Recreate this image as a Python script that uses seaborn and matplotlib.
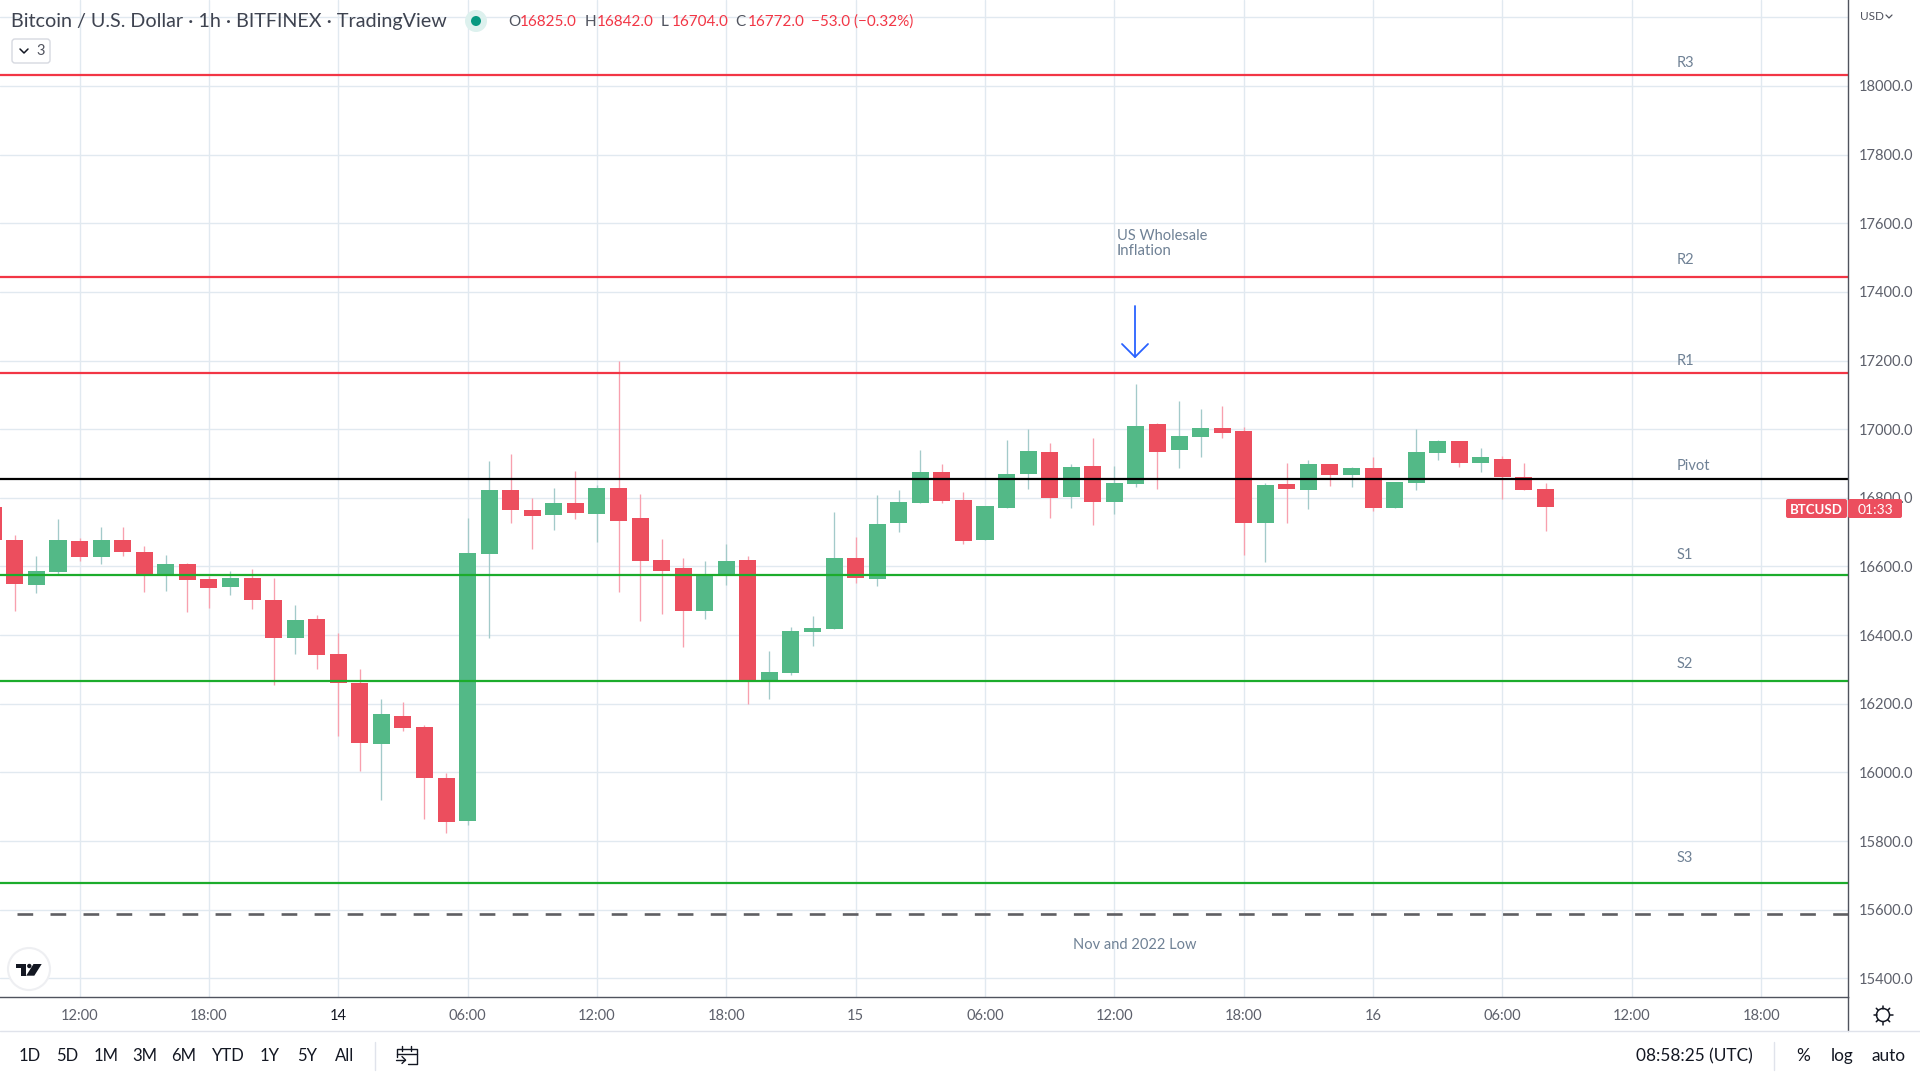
import matplotlib
matplotlib.use("Agg")
import matplotlib.pyplot as plt
from matplotlib.patches import Circle, FancyBboxPatch, Polygon
import numpy as np
import pandas as pd
import seaborn as sns

# ─────────────────────────────────────────
# Data
# hours are counted from 13 Nov 12:00
# ─────────────────────────────────────────
hours = list(range(-4, 69))
opens = [16774, 16678, 16547, 16584, 16675, 16628, 16678, 16643, 16579, 16608,
         16564, 16541, 16567, 16503, 16392, 16447, 16346, 16261, 16083, 16165,
         16133, 15984, 15859, 16637, 16823, 16765, 16750, 16785, 16753, 16829,
         16742, 16619, 16596, 16471, 16573, 16619, 16267, 16290, 16410, 16418,
         16625, 16564, 16727, 16785, 16876, 16794, 16678, 16771, 16870, 16934,
         16803, 16893, 16788, 16841, 17016, 16940, 16978, 17004, 16995, 16727,
         16841, 16823, 16899, 16867, 16887, 16771, 16844, 16931, 16966, 16902,
         16914, 16861, 16825]
closes = [16678, 16549, 16587, 16678, 16628, 16678, 16643, 16579, 16608, 16561,
          16538, 16567, 16503, 16392, 16445, 16343, 16261, 16086, 16171, 16130,
          15984, 15856, 16640, 16823, 16765, 16748, 16785, 16756, 16829, 16733,
          16616, 16587, 16471, 16579, 16616, 16270, 16293, 16413, 16421, 16625,
          16567, 16724, 16788, 16876, 16791, 16675, 16777, 16870, 16937, 16800,
          16890, 16788, 16844, 17010, 16934, 16981, 17004, 16989, 16727, 16838,
          16826, 16899, 16867, 16887, 16771, 16847, 16934, 16966, 16902, 16919,
          16861, 16823, 16772]
highs = [16780, 16692, 16631, 16739, 16683, 16715, 16715, 16660, 16634, 16611,
         16573, 16587, 16593, 16567, 16488, 16459, 16407, 16302, 16214, 16206,
         16139, 15999, 16742, 16908, 16928, 16800, 16829, 16879, 16838, 17199,
         16812, 16681, 16625, 16616, 16666, 16631, 16354, 16424, 16456, 16759,
         16686, 16809, 16823, 16940, 16899, 16817, 16777, 16969, 17001, 16960,
         16899, 16975, 16893, 17132, 17018, 17083, 17059, 17068, 17007, 16844,
         16902, 16911, 16899, 16890, 16919, 16847, 17001, 16969, 16966, 16946,
         16922, 16902, 16842]
lows = [16650, 16471, 16523, 16579, 16616, 16608, 16631, 16526, 16529, 16468,
        16480, 16517, 16477, 16255, 16346, 16302, 16107, 16005, 15920, 16121,
        15865, 15824, 15847, 16392, 16727, 16651, 16707, 16739, 16672, 16526,
        16442, 16462, 16366, 16447, 16547, 16200, 16214, 16284, 16369, 16418,
        16552, 16544, 16701, 16785, 16785, 16666, 16678, 16771, 16826, 16742,
        16771, 16721, 16753, 16832, 16826, 16887, 16919, 16975, 16634, 16614,
        16727, 16768, 16835, 16832, 16762, 16771, 16823, 16911, 16890, 16876,
        16797, 16823, 16704]

resistance_levels = [18031, 17443, 17164]
pivot_level = 16855
support_levels = [16576, 16267, 15679]
low_level = 15588

price_ticks = [15400, 15600, 15800, 16000, 16200, 16400, 16600, 16800,
               17000, 17200, 17400, 17600, 17800, 18000]
time_ticks = [0, 6, 12, 18, 24, 30, 36, 42, 48, 54, 60, 66, 72, 78]
time_labels = ["12:00", "18:00", "14", "06:00", "12:00", "18:00", "15",
               "06:00", "12:00", "18:00", "16", "06:00", "12:00", "18:00"]

UP, DOWN = "#53B987", "#EC4E5E"
UP_WICK, DOWN_WICK = "#A3CACA", "#F8A0AE"
RED, GREEN = "#F23645", "#1CAC2C"
GRID = "#E1E9F0"
AXIS = "#50535E"
NOTE = "#6F8195"
INK = "#131722"

sns.set_theme(style="whitegrid", rc={"grid.color": GRID, "grid.linewidth": 1.0,
                                     "axes.edgecolor": AXIS})
plt.rcParams["font.family"] = ["Lato", "DejaVu Sans"]

# ─────────────────────────────────────────
# Candles
# ─────────────────────────────────────────
df = pd.DataFrame({"hour": hours, "open": opens, "close": closes, "high": highs, "low": lows})
df["base"] = df[["open", "close"]].min(axis=1)
df["body"] = (df["close"] - df["open"]).abs()

fig = plt.figure(figsize=(19.2, 10.8), dpi=100, facecolor="white")
ax = fig.add_axes([0, 1 - 997 / 1080, 1848 / 1920, 997 / 1080])
ax.set_axisbelow(True)

for is_up, body_col, wick_col in [(True, UP, UP_WICK), (False, DOWN, DOWN_WICK)]:
    part = df[(df["close"] > df["open"]) == is_up]
    ax.vlines(part["hour"], part["low"], part["high"], color=wick_col, lw=0.95, zorder=0.9)
    sns.barplot(data=part, x="hour", y="body", bottom=part["base"].values, native_scale=True,
                orient="x", color=body_col, saturation=1, width=0.79, errorbar=None,
                linewidth=0, ax=ax, zorder=1)

for lvl in resistance_levels:
    ax.axhline(lvl, color=RED, lw=1.6, zorder=2)
for lvl in support_levels:
    ax.axhline(lvl, color=GREEN, lw=1.6, zorder=2)
ax.axhline(pivot_level, color="black", lw=1.6, zorder=2)
ax.axhline(low_level, color="#5F5F63", lw=1.9, ls=(6.07, (5.95, 6.56)), zorder=2)

ax.set_xlim(-3.69, 82.03)
ax.set_ylim(15345.5, 18250.5)
ax.set_yticks(price_ticks + [18200])
ax.set_yticklabels([f"{p:.1f}" for p in price_ticks] + [""])
ax.yaxis.tick_right()
ax.set_xticks(time_ticks)
ax.set_xticklabels(time_labels)
ax.tick_params(axis="both", length=0, labelsize=10.5, labelcolor="#5D606B")
ax.tick_params(axis="x", pad=9)
ax.tick_params(axis="y", pad=8)
for lab in ax.get_xticklabels():
    if lab.get_text() == "14":
        lab.set_color(INK)
ax.set_xlabel("")
ax.set_ylabel("")
ax.grid(True, color=GRID, lw=1.0)
ax.spines[["top", "left"]].set_visible(False)
ax.spines[["right", "bottom"]].set_color(AXIS)
ax.spines[["right", "bottom"]].set_linewidth(1.0)

# ─────────────────────────────────────────
# Screen furniture, in pixel coordinates
# ─────────────────────────────────────────
ov = fig.add_axes([0, 0, 1, 1], facecolor="none")
ov.set_xlim(0, 1920)
ov.set_ylim(1080, 0)
ov.axis("off")


def put(x, y, s, size=10.5, color=INK, ha="left", **kw):
    ov.text(x, y, s, fontsize=size, color=color, ha=ha, va="center", **kw)


# header
put(11, 22, "Bitcoin / U.S. Dollar · 1h · BITFINEX · TradingView", size=14.2, color="#3E4350")
ov.add_patch(Circle((476, 21), 11, fc="#DDF1EE", ec="none"))
ov.add_patch(Circle((476, 21), 5, fc="#089981", ec="none"))
for x, s in [(508, "O"), (585, "H"), (661, "L"), (735, "C")]:
    put(x, 22, s, size=11, color="#50535E")
for x, s in [(520, "16825.0"), (597, "16842.0"), (672, "16704.0"), (748, "16772.0"),
             (811, "−53.0 (−0.32%)")]:
    put(x, 22, s, size=11, color=RED)
ov.add_patch(FancyBboxPatch((12, 39), 38, 24, boxstyle="round,pad=0,rounding_size=3",
                            fc="white", ec="#D6D9E0", lw=1))
ov.plot([20, 24, 28], [49, 53, 49], color=INK, lw=1.1)
put(36, 51, "3", size=10.5, color="#50535E")
put(1860, 16, "USD", size=8.5, color="#50535E")
ov.plot([1886, 1889, 1892], [15, 18, 15], color="#50535E", lw=0.9)

# level labels
for y, s in [(63, "R3"), (260, "R2"), (361, "R1"), (466, "Pivot"), (555, "S1"), (664, "S2"), (858, "S3")]:
    put(1677, y, s, size=10.5, color=NOTE)
put(1117, 236, "US Wholesale", size=10.5, color=NOTE)
put(1117, 251, "Inflation", size=10.8, color=NOTE)
put(1135, 945, "Nov and 2022 Low", size=10.5, color=NOTE, ha="center")

# arrow
ov.plot([1135, 1135], [306, 357], color="#2962FF", lw=1.3)
ov.plot([1122, 1135, 1148], [344, 357, 344], color="#2962FF", lw=1.3)

# last price tag
ov.add_patch(FancyBboxPatch((1786, 499), 61, 19, boxstyle="round,pad=0,rounding_size=2", fc=DOWN, ec="none"))
ov.add_patch(FancyBboxPatch((1848, 499), 54, 19, boxstyle="round,pad=0,rounding_size=2", fc=DOWN, ec="none"))
put(1816, 510, "BTCUSD", size=9.5, color="white", ha="center", fontweight="bold")
put(1875, 510, "01:33", size=10, color="white", ha="center")

# logo
ov.add_patch(Circle((29, 969), 21, fc="white", ec="#EEEFF2", lw=1.5))
ov.add_patch(Polygon([(16, 964), (25.7, 964), (25.7, 975.7), (20.7, 975.7), (20.7, 968.3), (16, 968.3)],
                     fc=INK, ec="none"))
ov.add_patch(Circle((29.3, 966), 2.2, fc=INK, ec="none"))
ov.add_patch(Polygon([(33.5, 964), (41.7, 964), (34.3, 975.7), (26.2, 975.7)], fc=INK, ec="none"))

# separators
ov.plot([1848, 1848], [997, 1031], color=AXIS, lw=1)
ov.plot([0, 1920], [1031, 1031], color="#E0E3EB", lw=1)
ov.plot([375, 375], [1042, 1070], color="#E0E3EB", lw=1)
ov.plot([1774, 1774], [1042, 1070], color="#E0E3EB", lw=1)

# gear icon
ov.add_patch(Circle((1883, 1015), 6.5, fc="none", ec=INK, lw=1.1))
for a in np.arange(0, 360, 45):
    c, s = np.cos(np.radians(a)), np.sin(np.radians(a))
    ov.plot([1883 + 6.5 * c, 1883 + 9.5 * c], [1015 + 6.5 * s, 1015 + 9.5 * s], color=INK, lw=1.1)

# bottom toolbar
for x, s in [(30, "1D"), (67, "5D"), (106, "1M"), (145, "3M"), (184, "6M"),
             (228, "YTD"), (270, "1Y"), (307, "5Y"), (345, "All")]:
    put(x, 1056, s, size=12, ha="center")
# calendar icon
ov.plot([397, 397, 417, 417, 408], [1057, 1049, 1049, 1064, 1064], color=INK, lw=1)
ov.plot([397, 417], [1054, 1054], color=INK, lw=1)
ov.plot([402, 402], [1046, 1051], color=INK, lw=1)
ov.plot([411, 411], [1046, 1051], color=INK, lw=1)
ov.plot([396, 405], [1060, 1060], color=INK, lw=1)
ov.plot([402, 405.5, 402], [1056.5, 1060, 1063.5], color=INK, lw=1)

put(1694, 1056, "08:58:25 (UTC)", size=12.4, ha="center")
put(1803, 1056, "%", size=12.4, ha="center")
put(1842, 1056, "log", size=12.4, ha="center")
put(1889, 1056, "auto", size=12.4, ha="center")

plt.savefig("out.png", dpi=100)
plt.close()
